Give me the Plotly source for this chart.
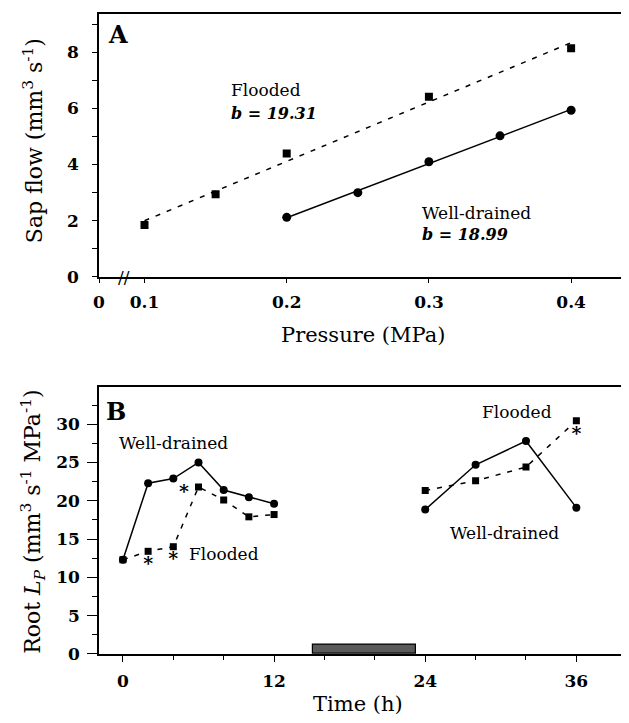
import numpy as np
import plotly.graph_objects as go

# ---------------- Panel A data ----------------
press_flooded = [0.1, 0.15, 0.2, 0.3, 0.4]
flow_flooded = [1.85, 2.94, 4.39, 6.41, 8.14]
press_drained = [0.2, 0.25, 0.3, 0.35, 0.4]
flow_drained = [2.12, 3.0, 4.1, 5.02, 5.93]
a_x_ticks = [0.068, 0.1, 0.2, 0.3, 0.4]
a_x_ticktext = ["0", "0.1", "0.2", "0.3", "0.4"]

# ---------------- Panel B data ----------------
hours_day1 = [0, 2, 4, 6, 8, 10, 12]
lp_drained_day1 = [12.3, 22.3, 22.9, 25.0, 21.4, 20.45, 19.6]
lp_flooded_day1 = [12.3, 13.4, 14.0, 21.8, 20.1, 17.9, 18.2]
hours_day2 = [24, 28, 32, 36]
lp_drained_day2 = [18.85, 24.7, 27.8, 19.1]
lp_flooded_day2 = [21.35, 22.6, 24.4, 30.45]
star_hours = [2, 4, 4.85, 36]
star_lp = [11.6, 12.2, 21.0, 28.6]
night_start, night_end, night_height = 15.1, 23.3, 1.2
b_x_ticks = [0, 12, 24, 36]

FONT = "DejaVu Serif"

fig = go.Figure()

# Panel A fits
fit_f = np.polyfit(press_flooded, flow_flooded, 1)
fit_d = np.polyfit(press_drained, flow_drained, 1)
xf = np.array([min(press_flooded), max(press_flooded)])
xd = np.array([min(press_drained), max(press_drained)])

fig.add_trace(go.Scatter(x=xf, y=np.polyval(fit_f, xf), mode="lines",
                         line=dict(color="black", width=1.5, dash="5px,7px"),
                         xaxis="x", yaxis="y", showlegend=False))
fig.add_trace(go.Scatter(x=xd, y=np.polyval(fit_d, xd), mode="lines",
                         line=dict(color="black", width=1.5),
                         xaxis="x", yaxis="y", showlegend=False))
fig.add_trace(go.Scatter(x=press_flooded, y=flow_flooded, mode="markers",
                         marker=dict(symbol="square", size=8, color="black"),
                         xaxis="x", yaxis="y", showlegend=False))
fig.add_trace(go.Scatter(x=press_drained, y=flow_drained, mode="markers",
                         marker=dict(symbol="circle", size=9, color="black"),
                         xaxis="x", yaxis="y", showlegend=False))

# Panel B
fig.add_trace(go.Bar(x=[(night_start + night_end) / 2], y=[night_height],
                     width=[night_end - night_start],
                     marker=dict(color="#5a5a5a", line=dict(color="black", width=1.2)),
                     xaxis="x2", yaxis="y2", showlegend=False))
for hrs, fl, wd in [(hours_day1, lp_flooded_day1, lp_drained_day1),
                    (hours_day2, lp_flooded_day2, lp_drained_day2)]:
    fig.add_trace(go.Scatter(x=hrs, y=fl, mode="lines+markers",
                             line=dict(color="black", width=1.5, dash="5px,7px"),
                             marker=dict(symbol="square", size=7, color="black"),
                             xaxis="x2", yaxis="y2", showlegend=False))
    fig.add_trace(go.Scatter(x=hrs, y=wd, mode="lines+markers",
                             line=dict(color="black", width=1.5),
                             marker=dict(symbol="circle", size=8, color="black"),
                             xaxis="x2", yaxis="y2", showlegend=False))
fig.add_trace(go.Scatter(x=star_hours, y=star_lp, mode="text", text=["*"] * len(star_hours),
                         textfont=dict(family=FONT, size=19, color="black", weight="bold"),
                         textposition="middle center",
                         xaxis="x2", yaxis="y2", showlegend=False))

axis_common = dict(showline=True, mirror=True, linecolor="black", linewidth=1.5,
                   showgrid=False, zeroline=False, ticks="outside", tickcolor="black",
                   tickfont=dict(family=FONT, size=17, color="black", weight="bold"))

fig.update_layout(
    width=629, height=723,
    margin=dict(l=91, r=9, t=0, b=0),
    paper_bgcolor="white", plot_bgcolor="white",
    font=dict(family=FONT, color="black"),
    bargap=0,
    xaxis=dict(domain=[0, 1], range=[0.068, 0.44], tickmode="array",
               tickvals=a_x_ticks, ticktext=a_x_ticktext, ticklen=4,
               ticklabelstandoff=5, anchor="y", **axis_common),
    yaxis=dict(domain=[0.6228, 0.9921], range=[0, 9.37], tickmode="linear", tick0=0, dtick=2,
               ticklen=5, minor=dict(dtick=1, ticklen=5, ticks="outside", tickcolor="black"),
               ticklabelstandoff=10, anchor="x", **axis_common),
    xaxis2=dict(domain=[0, 1], range=[-1.9, 40.1], tickmode="array", tickvals=b_x_ticks,
                ticklen=6, minor=dict(dtick=4, tick0=0, ticklen=4, ticks="outside", tickcolor="black"),
                ticklabelstandoff=5, anchor="y2", **axis_common),
    yaxis2=dict(domain=[0.0941, 0.4689], range=[0, 34.9], tickmode="linear", tick0=0, dtick=5,
                ticklen=10, minor=dict(dtick=2.5, ticklen=5, ticks="outside", tickcolor="black"),
                ticklabelstandoff=4, anchor="x2", **axis_common),
)

ann_font = dict(family=FONT, size=17, color="black")
anns = [
    dict(text="<b>A</b>", xref="x domain", yref="y domain", x=0.036, y=0.92,
         font=dict(family=FONT, size=24, color="black")),
    dict(text="<b>B</b>", xref="x2 domain", yref="y2 domain", x=0.032, y=0.908,
         font=dict(family=FONT, size=24, color="black")),
    dict(text="Flooded", xref="x", yref="y", x=0.1597, y=6.65, xanchor="left", font=ann_font),
    dict(text="<b><i>b</i> = <i>19.31</i></b>", xref="x", yref="y", x=0.1597, y=5.82,
         xanchor="left", font=dict(family=FONT, size=16, color="black")),
    dict(text="Well-drained", xref="x", yref="y", x=0.2936, y=2.27, xanchor="left", font=ann_font),
    dict(text="<b><i>b</i> = <i>18.99</i></b>", xref="x", yref="y", x=0.2936, y=1.5,
         xanchor="left", font=dict(family=FONT, size=16, color="black")),
    dict(text="//", xref="x", yref="y", x=0.0856, y=0,
         font=dict(family=FONT, size=17, color="black")),
    dict(text="Well-drained", xref="x2", yref="y2", x=4.05, y=27.5, font=ann_font),
    dict(text="Flooded", xref="x2", yref="y2", x=8.0, y=13.0, font=ann_font),
    dict(text="Flooded", xref="x2", yref="y2", x=31.3, y=31.6, font=ann_font),
    dict(text="Well-drained", xref="x2", yref="y2", x=30.3, y=15.8, font=ann_font),
    # axis titles
    dict(text="Sap flow (mm<sup>3</sup> s<sup>-1</sup>)", xref="paper", yref="paper",
         x=-0.1248, y=0.8146, textangle=-90, font=dict(family=FONT, size=22, color="black")),
    dict(text="Pressure (MPa)", xref="paper", yref="paper", x=0.499, y=0.5408,
         font=dict(family=FONT, size=21, color="black")),
    dict(text="Root <i>L</i><sub><i>P</i></sub> (mm<sup>3</sup> s<sup>-1</sup> MPa<sup>-1</sup>)",
         xref="paper", yref="paper", x=-0.1248, y=1 - 521 / 723, textangle=-90,
         font=dict(family=FONT, size=22, color="black")),
    dict(text="Time (h)", xref="paper", yref="paper", x=(350 - 91) / 529, y=1 - 706 / 723,
         font=dict(family=FONT, size=21, color="black")),
]
for a in anns:
    a.setdefault("showarrow", False)
    a.setdefault("xanchor", "center")
    a.setdefault("yanchor", "middle")
fig.update_layout(annotations=anns)

fig.write_html("out.html")
